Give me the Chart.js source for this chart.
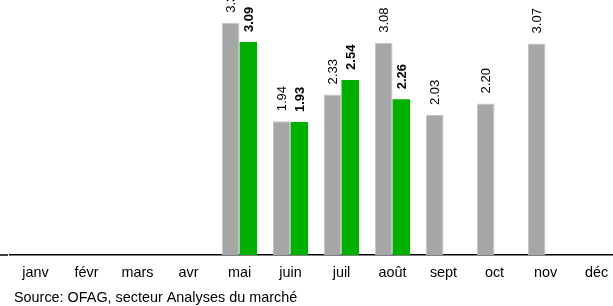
<!DOCTYPE html>
<html>
<head>
<meta charset="utf-8">
<script src="https://cdn.jsdelivr.net/npm/chart.js@4"></script>
<style>
  html, body { margin: 0; padding: 0; overflow: hidden; background: #fff; }
  #wrap { position: relative; width: 622px; height: 306px; }
</style>
</head>
<body>
<div id="wrap"><canvas id="myChart"></canvas></div>
<script>
var months = ["janv", "févr", "mars", "avr", "mai", "juin", "juil", "août", "sept", "oct", "nov", "déc"];
var lastYear = [null, null, null, null, 3.37, 1.94, 2.33, 3.08, 2.03, 2.20, 3.07, null];
var thisYear = [null, null, null, null, 3.09, 1.93, 2.54, 2.26, null, null, null, null];
var sourceText = "Source: OFAG, secteur Analyses du marché";

var FONT = '"Liberation Sans", Arial, sans-serif';

// values written vertically above each bar, bold for the current year
var barLabels = {
  id: "barLabels",
  afterDatasetsDraw: function (chart) {
    var ctx = chart.ctx;
    chart.data.datasets.forEach(function (ds, i) {
      chart.getDatasetMeta(i).data.forEach(function (bar, j) {
        var v = ds.data[j];
        if (v == null) return;
        ctx.save();
        ctx.translate(bar.x + 1, bar.y - 10);
        ctx.rotate(-Math.PI / 2);
        ctx.font = (i === 1 ? "bold " : "") + "13px " + FONT;
        ctx.fillStyle = "#000";
        ctx.textAlign = "left";
        ctx.textBaseline = "middle";
        ctx.fillText(v.toFixed(2), 0, 0);
        ctx.restore();
      });
    });
  },
  afterDraw: function (chart) {
    var ctx = chart.ctx;
    var y = chart.chartArea.bottom;
    ctx.save();
    // little stub of the axis left of the plot
    ctx.strokeStyle = "#000";
    ctx.lineWidth = 1.5;
    ctx.beginPath();
    ctx.moveTo(0, y);
    ctx.lineTo(8, y);
    ctx.stroke();
    ctx.font = "14.4px " + FONT;
    ctx.fillStyle = "#000";
    ctx.textAlign = "left";
    ctx.textBaseline = "alphabetic";
    ctx.fillText(sourceText, 14, 302);
    ctx.restore();
  }
};

new Chart("myChart", {
  type: "bar",
  data: {
    labels: months,
    datasets: [{
      data: lastYear,
      backgroundColor: "#a6a6a6",
      borderColor: "#c4c4c4",
      borderWidth: 1,
      borderSkipped: "bottom"
    }, {
      data: thisYear,
      backgroundColor: "#00b000"
    }]
  },
  options: {
    responsive: true,
    maintainAspectRatio: false,
    animation: false,
    layout: { padding: { left: 10, right: 0, top: 0, bottom: 0 } },
    datasets: { bar: { categoryPercentage: 0.69, barPercentage: 1.0 } },
    plugins: {
      legend: { display: false },
      title: { display: false },
      tooltip: { enabled: false }
    },
    scales: {
      x: {
        grid: { display: false, drawTicks: false },
        border: { display: true, color: "#000", width: 1.5 },
        ticks: { color: "#000", font: { family: FONT, size: 14.4 }, padding: 9, maxRotation: 0, autoSkip: false },
        afterFit: function (scale) { scale.height = 51; }
      },
      y: {
        display: false,
        min: 0,
        max: 3.7
      }
    }
  },
  plugins: [barLabels]
});
</script>
</body>
</html>
